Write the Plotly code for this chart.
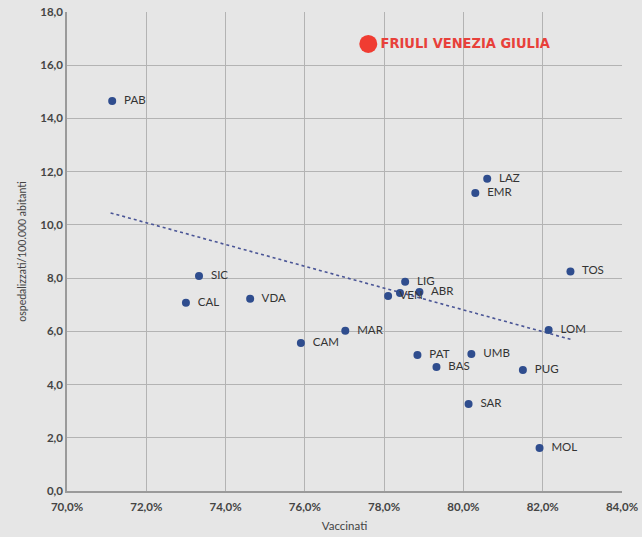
import plotly.graph_objects as go

regions = ["PAB", "LAZ", "EMR", "TOS", "SIC", "CAL", "VDA", "CAM", "MAR", "LIG",
           "VEN", "PIE", "ABR", "LOM", "PAT", "UMB", "BAS", "PUG", "SAR", "MOL"]
vaccinati = [71.14, 80.60, 80.30, 82.70, 73.33, 73.00, 74.62, 75.90, 77.02, 78.53,
             78.10, 78.40, 78.89, 82.15, 78.84, 80.20, 79.32, 81.50, 80.13, 81.92]
ospedalizzati = [14.66, 11.73, 11.20, 8.25, 8.08, 7.07, 7.22, 5.56, 6.02, 7.86,
                 7.33, 7.44, 7.48, 6.05, 5.11, 5.15, 4.66, 4.55, 3.27, 1.62]
labels = ["PAB", "LAZ", "EMR", "TOS", "SIC", "CAL", "VDA", "CAM", "MAR", "LIG",
          "VEN", "", "ABR", "LOM", "PAT", "UMB", "BAS", "PUG", "SAR", "MOL"]

fvg_name = "FRIULI VENEZIA GIULIA"
fvg_x = [77.60]
fvg_y = [16.80]

trend_x = [71.10, 82.70]
trend_y = [10.45, 5.70]

x_ticks = [70, 72, 74, 76, 78, 80, 82, 84]
y_ticks = [0, 2, 4, 6, 8, 10, 12, 14, 16, 18]

fig = go.Figure()

fig.add_trace(go.Scatter(
    x=[v / 100 for v in trend_x], y=trend_y, mode="lines",
    line=dict(color="#4a5596", width=1.6, dash="dot"),
    hoverinfo="skip", showlegend=False))

fig.add_trace(go.Scatter(
    x=[v / 100 for v in vaccinati], y=ospedalizzati, mode="markers+text",
    marker=dict(color="#2f4d8e", size=8),
    text=["  " + t if t else "" for t in labels], textposition="middle right",
    textfont=dict(family="Lato, Open Sans, sans-serif", size=11.5, color="#333333"),
    customdata=regions, showlegend=False, cliponaxis=False))

fig.add_trace(go.Scatter(
    x=[v / 100 for v in fvg_x], y=fvg_y, mode="markers+text",
    marker=dict(color="#f03c32", size=18),
    text=[fvg_name], textposition="middle right",
    textfont=dict(family="Liberation Sans Narrow, DejaVu Sans Condensed, sans-serif",
                  size=14.5, color="#e8403a", weight="bold"),
    showlegend=False, cliponaxis=False))

fig.update_layout(
    width=642, height=537,
    margin=dict(l=67, r=20, t=12, b=46, autoexpand=False),
    paper_bgcolor="#e6e6e6", plot_bgcolor="#e6e6e6",
    separators=",.",
    font=dict(family="Lato, Open Sans, sans-serif", size=11, color="#444444"),
    xaxis=dict(range=[0.70, 0.84], tickvals=[v / 100 for v in x_ticks], tickformat=".1%",
               automargin=False,
               showgrid=True, gridcolor="#b3b3b3", gridwidth=1,
               showline=True, linecolor="#9a9a9a", linewidth=1.5,
               zeroline=False, ticks="", ticklabelstandoff=4,
               tickfont=dict(size=11.5, color="#444444", weight="bold"),
               title=dict(text="Vaccinati", font=dict(size=11.5, color="#444444"), standoff=10)),
    yaxis=dict(range=[0, 18], tickvals=y_ticks, tickformat=".1f",
               automargin=False,
               showgrid=True, gridcolor="#b3b3b3", gridwidth=1,
               showline=True, linecolor="#9a9a9a", linewidth=1.5,
               zeroline=False, ticks="",
               tickfont=dict(size=11.5, color="#444444", weight="bold"),
               title=dict(text="ospedalizzati/100.000 abitanti",
                          font=dict(size=10.5, color="#444444"), standoff=12)),
)

fig.write_html(
    "out.html",
    config={"displayModeBar": False},
    post_script="document.body.style.margin='0';document.body.style.background='#e6e6e6';",
)
